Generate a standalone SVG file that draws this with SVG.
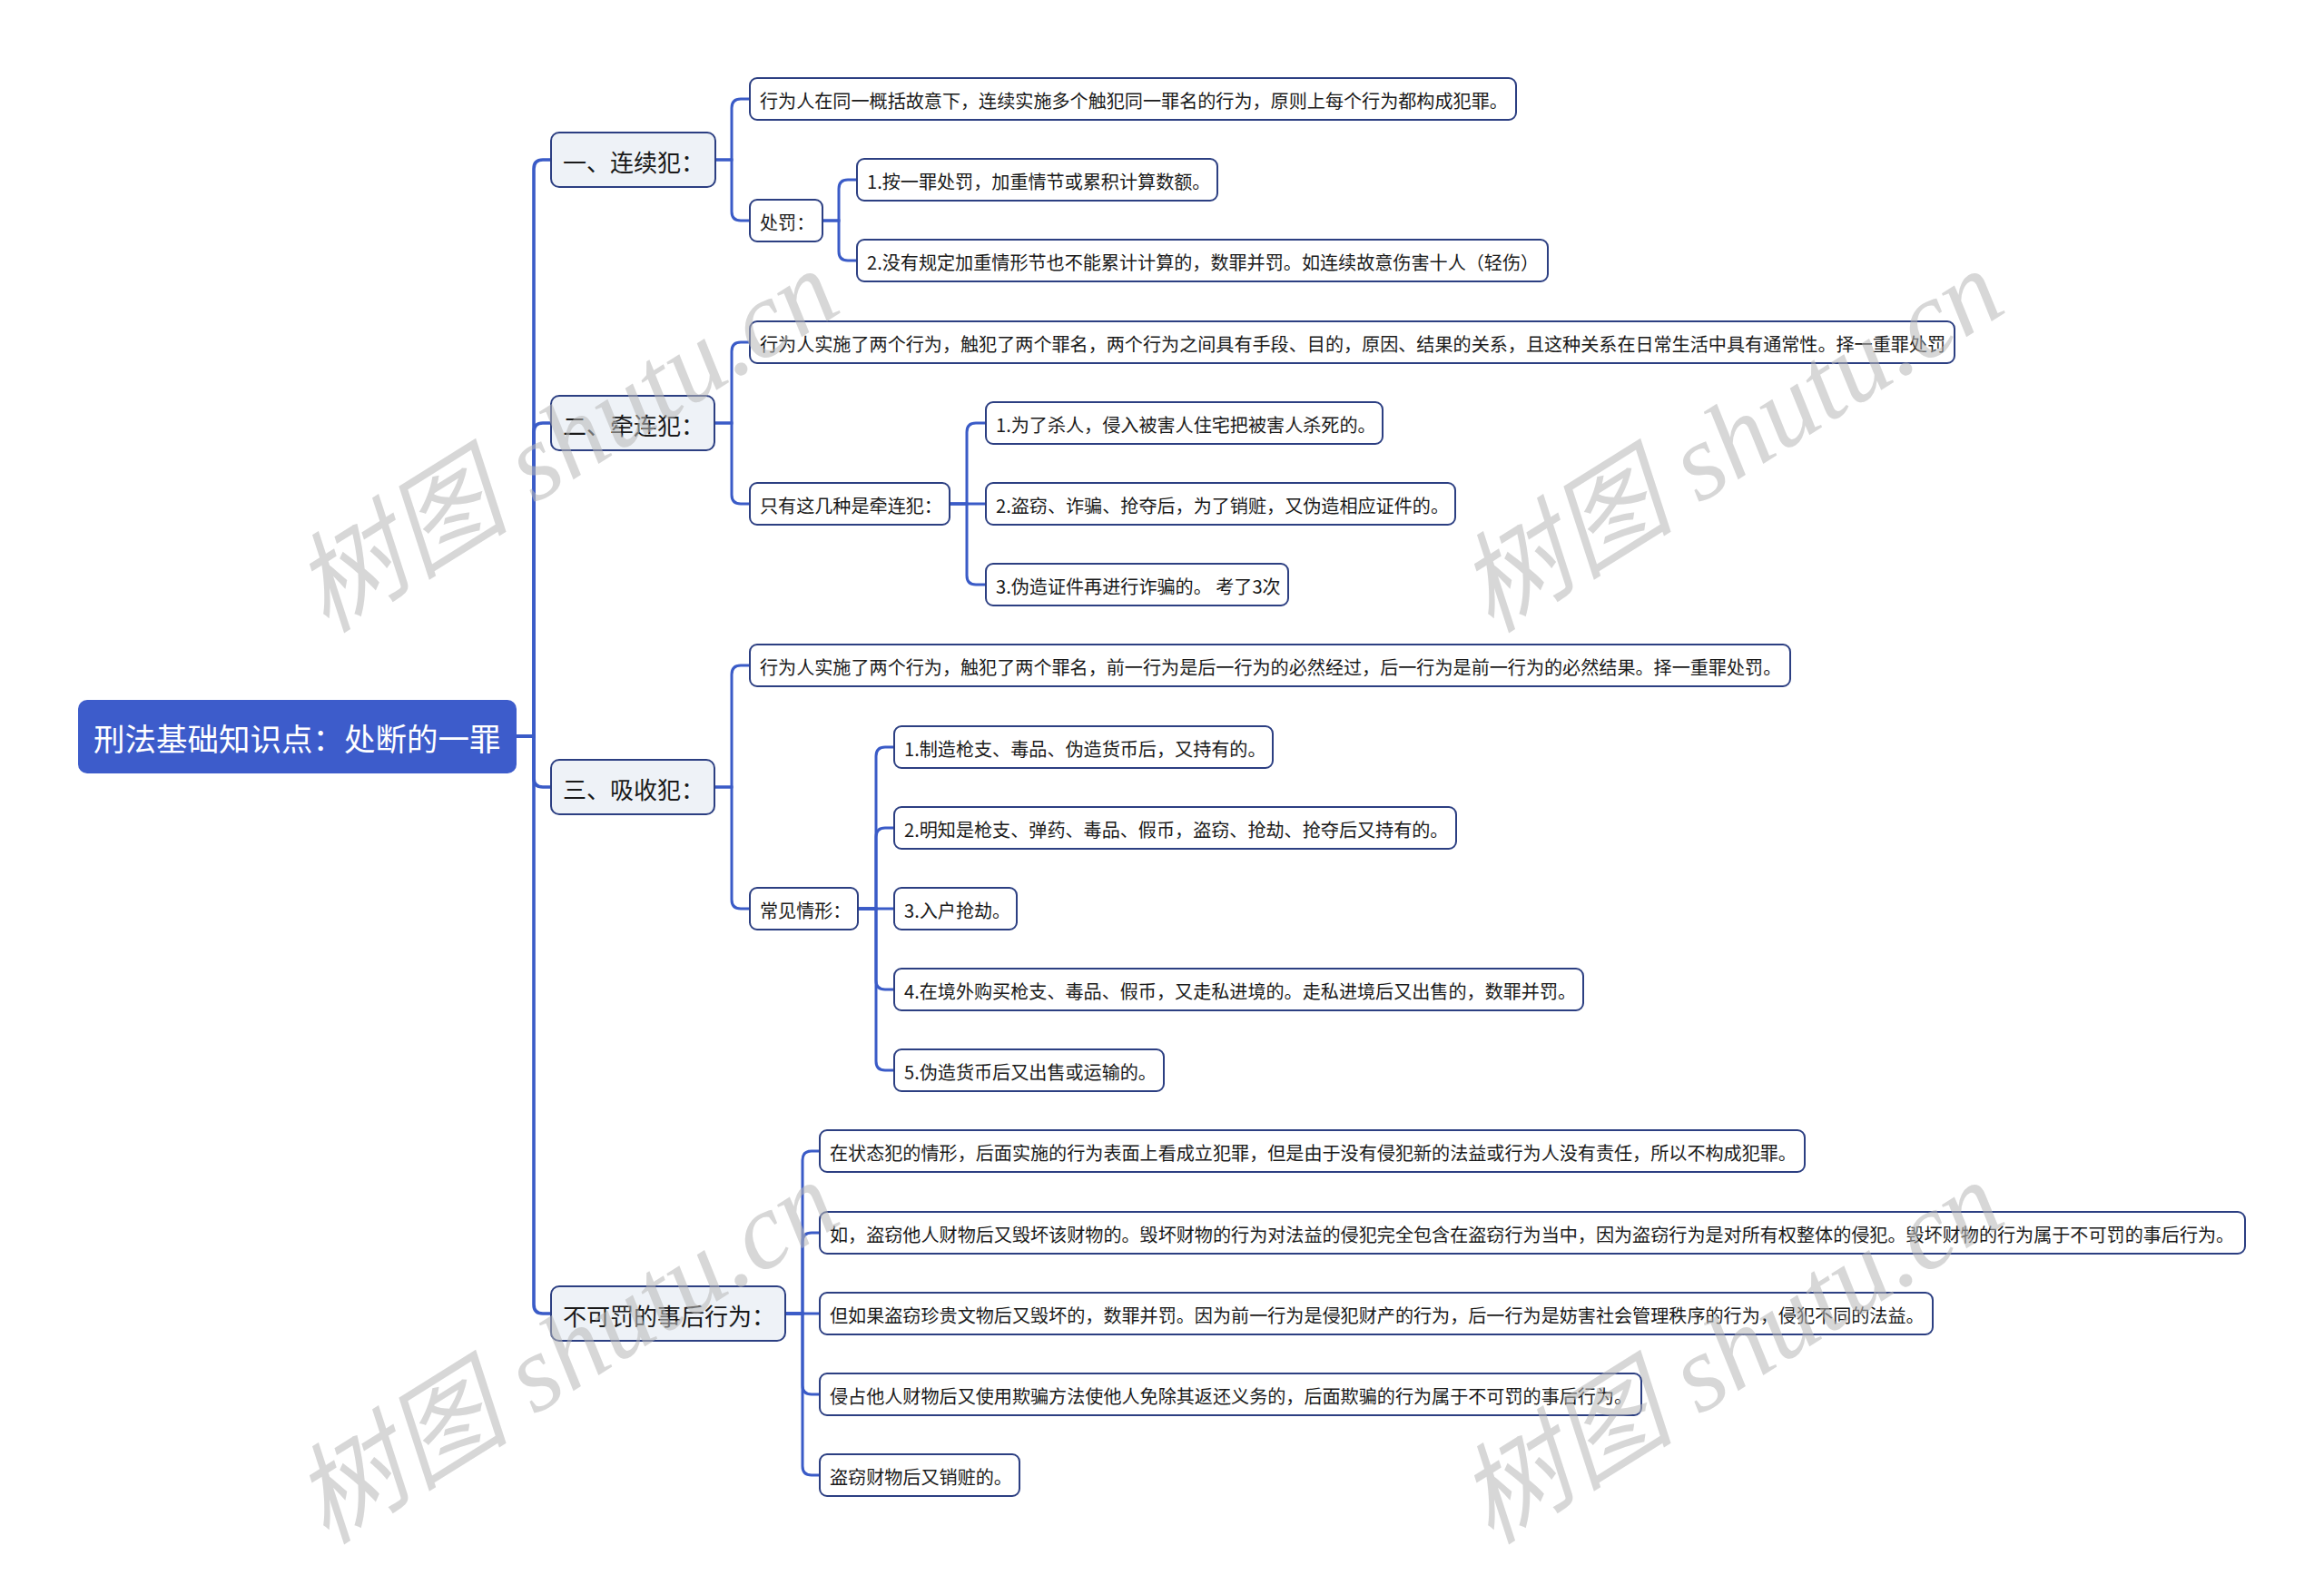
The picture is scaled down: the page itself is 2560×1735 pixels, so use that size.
<svg xmlns="http://www.w3.org/2000/svg" width="2560" height="1735" viewBox="0 0 2560 1735">
<style>
.t{font-family:"Noto Sans CJK SC","Microsoft YaHei",sans-serif;fill:#1a1a1a;dominant-baseline:central}
.leaf rect{fill:#ffffff;stroke:#2c3f82;stroke-width:2}
.leaf text{font-size:20.1px}
.l1 rect{fill:#eef2f7;stroke:#2c3f82;stroke-width:2}
.l1 text{font-size:26px}
.root rect{fill:#3d5ccb}
.root text{font-size:34.5px;fill:#ffffff}
.c path{fill:none;stroke:#3a5bc7;stroke-width:3;stroke-linecap:round}
.c path.m{stroke-width:3.6}
.wm{font-family:"Liberation Serif","Noto Sans CJK SC",serif;font-style:italic;font-size:120px;fill:#b8b8b8;opacity:0.55}
</style>
<rect x="0" y="0" width="2560" height="1735" fill="#ffffff"/>
<g id="connectors" class="c">
<path class="m" d="M569 811 H588 V186 Q588 176 598 176 H607"/>
<path class="m" d="M569 811 H588 V476 Q588 466 598 466 H607"/>
<path class="m" d="M569 811 H588 V857 Q588 867 598 867 H607"/>
<path class="m" d="M569 811 H588 V1437 Q588 1447 598 1447 H607"/>
<path d="M788 176 H806 V119 Q806 109 816 109 H826"/>
<path d="M788 176 H806 V233 Q806 243 816 243 H826"/>
<path d="M906 243 H924 V208 Q924 198 934 198 H944"/>
<path d="M906 243 H924 V277 Q924 287 934 287 H944"/>
<path d="M787 466 H806 V387 Q806 377 816 377 H826"/>
<path d="M787 466 H806 V545 Q806 555 816 555 H826"/>
<path d="M1046 555 H1065 V476 Q1065 466 1075 466 H1086"/>
<path d="M1046 555 H1086"/>
<path d="M1046 555 H1065 V634 Q1065 644 1075 644 H1086"/>
<path d="M787 867 H806 V743 Q806 733 816 733 H826"/>
<path d="M787 867 H806 V991 Q806 1001 816 1001 H826"/>
<path d="M945 1001 H965 V833 Q965 823 975 823 H985"/>
<path d="M945 1001 H965 V922 Q965 912 975 912 H985"/>
<path d="M945 1001 H985"/>
<path d="M945 1001 H965 V1080 Q965 1090 975 1090 H985"/>
<path d="M945 1001 H965 V1169 Q965 1179 975 1179 H985"/>
<path d="M865 1447 H884 V1278 Q884 1268 894 1268 H903"/>
<path d="M865 1447 H884 V1368 Q884 1358 894 1358 H903"/>
<path d="M865 1447 H903"/>
<path d="M865 1447 H884 V1526 Q884 1536 894 1536 H903"/>
<path d="M865 1447 H884 V1615 Q884 1625 894 1625 H903"/>
</g>
<g id="root" class="root"><rect x="86" y="771" width="483" height="81" rx="10"/><text class="t" x="103" y="812">刑法基础知识点：处断的一罪</text></g>
<g id="n1" class="l1"><rect x="607" y="146" width="181" height="60" rx="9"/><text class="t" x="620" y="177">一、连续犯：</text></g>
<g id="n2" class="l1"><rect x="607" y="436" width="180" height="60" rx="9"/><text class="t" x="620" y="467">二、牵连犯：</text></g>
<g id="n3" class="l1"><rect x="607" y="837" width="180" height="60" rx="9"/><text class="t" x="620" y="868">三、吸收犯：</text></g>
<g id="n4" class="l1"><rect x="607" y="1417" width="258" height="60" rx="9"/><text class="t" x="620" y="1448">不可罚的事后行为：</text></g>
<g id="n1a" class="leaf"><rect x="826" y="86" width="844" height="46" rx="8"/><text class="t" x="837" y="110">行为人在同一概括故意下，连续实施多个触犯同一罪名的行为，原则上每个行为都构成犯罪。</text></g>
<g id="n1b" class="leaf"><rect x="826" y="220" width="80" height="46" rx="8"/><text class="t" x="837" y="244">处罚：</text></g>
<g id="n1b1" class="leaf"><rect x="944" y="175" width="397" height="46" rx="8"/><text class="t" x="955" y="199">1.按一罪处罚，加重情节或累积计算数额。</text></g>
<g id="n1b2" class="leaf"><rect x="944" y="264" width="761" height="46" rx="8"/><text class="t" x="955" y="288">2.没有规定加重情形节也不能累计计算的，数罪并罚。如连续故意伤害十人（轻伤）</text></g>
<g id="n2a" class="leaf"><rect x="826" y="354" width="1327" height="46" rx="8"/><text class="t" x="837" y="378">行为人实施了两个行为，触犯了两个罪名，两个行为之间具有手段、目的，原因、结果的关系，且这种关系在日常生活中具有通常性。择一重罪处罚</text></g>
<g id="n2b" class="leaf"><rect x="826" y="532" width="220" height="46" rx="8"/><text class="t" x="837" y="556">只有这几种是牵连犯：</text></g>
<g id="n2b1" class="leaf"><rect x="1086" y="443" width="437" height="46" rx="8"/><text class="t" x="1097" y="467">1.为了杀人，侵入被害人住宅把被害人杀死的。</text></g>
<g id="n2b2" class="leaf"><rect x="1086" y="532" width="517" height="46" rx="8"/><text class="t" x="1097" y="556">2.盗窃、诈骗、抢夺后，为了销赃，又伪造相应证件的。</text></g>
<g id="n2b3" class="leaf"><rect x="1086" y="621" width="333" height="46" rx="8"/><text class="t" x="1097" y="645">3.伪造证件再进行诈骗的。 考了3次</text></g>
<g id="n3a" class="leaf"><rect x="826" y="710" width="1146" height="46" rx="8"/><text class="t" x="837" y="734">行为人实施了两个行为，触犯了两个罪名，前一行为是后一行为的必然经过，后一行为是前一行为的必然结果。择一重罪处罚。</text></g>
<g id="n3b" class="leaf"><rect x="826" y="978" width="119" height="46" rx="8"/><text class="t" x="837" y="1002">常见情形：</text></g>
<g id="n3b1" class="leaf"><rect x="985" y="800" width="417" height="46" rx="8"/><text class="t" x="996" y="824">1.制造枪支、毒品、伪造货币后，又持有的。</text></g>
<g id="n3b2" class="leaf"><rect x="985" y="889" width="619" height="46" rx="8"/><text class="t" x="996" y="913">2.明知是枪支、弹药、毒品、假币，盗窃、抢劫、抢夺后又持有的。</text></g>
<g id="n3b3" class="leaf"><rect x="985" y="978" width="135" height="46" rx="8"/><text class="t" x="996" y="1002">3.入户抢劫。</text></g>
<g id="n3b4" class="leaf"><rect x="985" y="1067" width="759" height="46" rx="8"/><text class="t" x="996" y="1091">4.在境外购买枪支、毒品、假币，又走私进境的。走私进境后又出售的，数罪并罚。</text></g>
<g id="n3b5" class="leaf"><rect x="985" y="1156" width="297" height="46" rx="8"/><text class="t" x="996" y="1180">5.伪造货币后又出售或运输的。</text></g>
<g id="n4a" class="leaf"><rect x="903" y="1245" width="1085" height="46" rx="8"/><text class="t" x="914" y="1269">在状态犯的情形，后面实施的行为表面上看成立犯罪，但是由于没有侵犯新的法益或行为人没有责任，所以不构成犯罪。</text></g>
<g id="n4b" class="leaf"><rect x="903" y="1335" width="1570" height="46" rx="8"/><text class="t" x="914" y="1359">如，盗窃他人财物后又毁坏该财物的。毁坏财物的行为对法益的侵犯完全包含在盗窃行为当中，因为盗窃行为是对所有权整体的侵犯。毁坏财物的行为属于不可罚的事后行为。</text></g>
<g id="n4c" class="leaf"><rect x="903" y="1424" width="1226" height="46" rx="8"/><text class="t" x="914" y="1448">但如果盗窃珍贵文物后又毁坏的，数罪并罚。因为前一行为是侵犯财产的行为，后一行为是妨害社会管理秩序的行为，侵犯不同的法益。</text></g>
<g id="n4d" class="leaf"><rect x="903" y="1513" width="905" height="46" rx="8"/><text class="t" x="914" y="1537">侵占他人财物后又使用欺骗方法使他人免除其返还义务的，后面欺骗的行为属于不可罚的事后行为。</text></g>
<g id="n4e" class="leaf"><rect x="903" y="1602" width="220" height="46" rx="8"/><text class="t" x="914" y="1626">盗窃财物后又销赃的。</text></g>
<g id="watermarks">
<text class="wm" x="645" y="520" text-anchor="middle" transform="rotate(-32 645 520)">树图 shutu.cn</text>
<text class="wm" x="1928" y="520" text-anchor="middle" transform="rotate(-32 1928 520)">树图 shutu.cn</text>
<text class="wm" x="645" y="1524" text-anchor="middle" transform="rotate(-32 645 1524)">树图 shutu.cn</text>
<text class="wm" x="1928" y="1524" text-anchor="middle" transform="rotate(-32 1928 1524)">树图 shutu.cn</text>
</g>
</svg>
